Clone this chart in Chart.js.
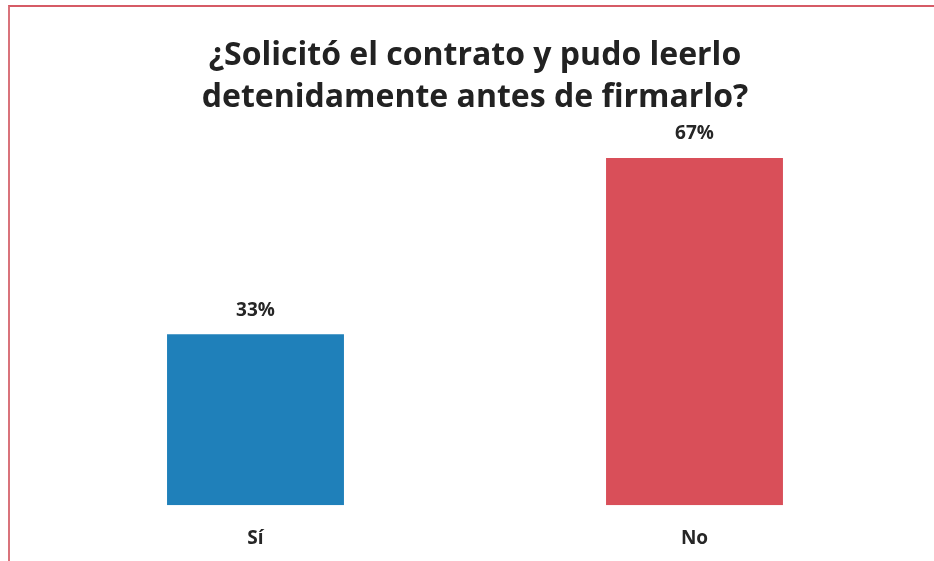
<!DOCTYPE html>
<html>
<head>
<meta charset="utf-8">
<script src="https://cdn.jsdelivr.net/npm/chart.js@4"></script>
<style>
  html, body { margin: 0; padding: 0; background: #fff; overflow: hidden; }
  #wrap { position: relative; width: 934px; height: 561px; }
  #frame {
    position: absolute; left: 8px; top: 5px; width: 940px; height: 570px;
    border-left: 2px solid #d9737b; border-top: 2px solid #d65b66;
  }
  canvas { position: absolute; left: 0; top: 0; }
</style>
</head>
<body>
<div id="wrap">
  <div id="frame"></div>
  <canvas id="myChart" width="934" height="561"></canvas>
</div>
<script>
/****answers*****/
const categories = ['Sí', 'No'];
const percentValues = [33, 67];
const barColors = ['#1f80ba', '#d94f59'];
const titleLines = ['¿Solicitó el contrato y pudo leerlo', 'detenidamente antes de firmarlo?'];

// writes "NN%" above each bar
const valueLabels = {
  id: 'valueLabels',
  afterDatasetsDraw(chart) {
    const ctx = chart.ctx;
    const meta = chart.getDatasetMeta(0);
    ctx.save();
    ctx.font = 'bold 19px "Open Sans"';
    ctx.fillStyle = '#262626';
    ctx.textAlign = 'center';
    ctx.textBaseline = 'middle';
    meta.data.forEach((bar, i) => {
      ctx.fillText(percentValues[i] + '%', bar.x, bar.y - 24);
    });
    ctx.restore();
  }
};

const barData = {
  labels: categories,
  datasets: [{
    data: percentValues,
    backgroundColor: barColors,
    borderWidth: 0,
    categoryPercentage: 1,
    barPercentage: 0.403
  }]
};

const barConfig = {
  type: 'bar',
  data: barData,
  plugins: [valueLabels],
  options: {
    responsive: false,
    animation: false,
    layout: {
      padding: { left: 36, right: 20, top: 0, bottom: -3 }
    },
    plugins: {
      legend: { display: false },
      tooltip: { enabled: false },
      title: {
        display: true,
        text: titleLines,
        color: '#222',
        font: { family: 'Open Sans', size: 32, weight: 'bold', lineHeight: 1.3125 },
        padding: { top: 35, bottom: 0 }
      }
    },
    scales: {
      y: {
        display: false,
        min: 0,
        max: 74.5
      },
      x: {
        grid: { display: false },
        border: { display: false },
        ticks: {
          color: '#262626',
          font: { family: 'Open Sans', size: 19, weight: 'bold' },
          padding: 14
        }
      }
    }
  }
};

var myChart = new Chart(
  document.getElementById('myChart'),
  barConfig
);
/*****************/
</script>
</body>
</html>
